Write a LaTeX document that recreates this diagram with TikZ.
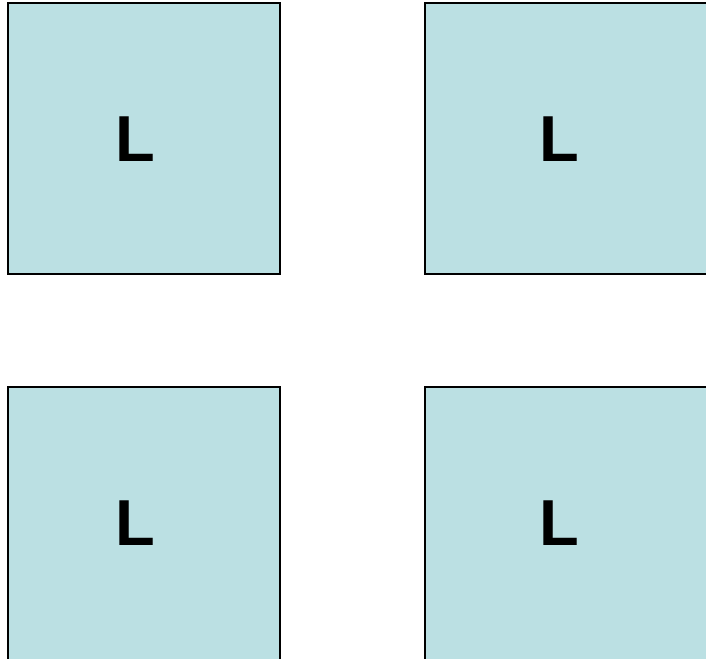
\documentclass[tikz,border=0pt]{standalone}
\usepackage{fontspec}
\setsansfont{Liberation Sans}
\usepackage{tikz}
\definecolor{PanelBlue}{HTML}{BBE0E3}
\definecolor{FrameBlack}{HTML}{000000}

\begin{document}
\begin{tikzpicture}[x=1pt, y=1pt, every node/.style={font=\sffamily\bfseries}]
  \tikzstyle{panel}=[rectangle, draw=FrameBlack, line width=2pt, fill=PanelBlue,
  anchor=north west, minimum width=272pt, minimum height=271pt, inner sep=0pt]
  \tikzstyle{letter}=[inner sep=0pt, font=\sffamily\bfseries\fontsize{65}{65}\selectfont]
  \useasboundingbox (0,0) rectangle (706,658);
  \clip (0,0) rectangle (706,658);
  \node[panel] (upperleft) at (7,656) {};
  \node[panel, minimum width=300pt] (upperright) at (423.5,656) {};
  \node[panel, minimum height=300pt] (lowerleft) at (7,272) {};
  \node[panel, minimum width=300pt, minimum height=300pt] (lowerright) at (423.5,272) {};
  \node[letter] (labelUL) at (135.3,518.7) {L};
  \node[letter] (labelUR) at (559.7,518.7) {L};
  \node[letter] (labelLL) at (135.3,134.5) {L};
  \node[letter] (labelLR) at (559.7,134.5) {L};
\end{tikzpicture}
\end{document}
